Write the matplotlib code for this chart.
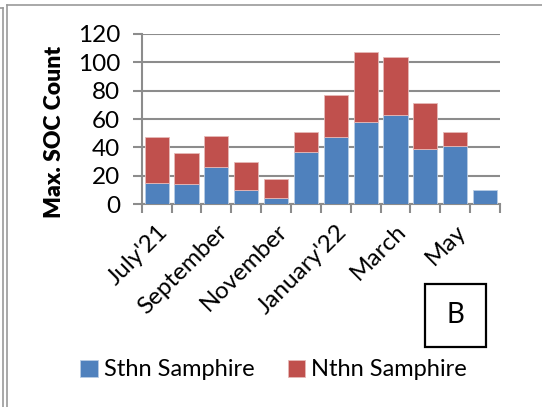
import matplotlib
matplotlib.use("Agg")
import matplotlib.pyplot as plt
from matplotlib.patches import Rectangle
from matplotlib.lines import Line2D

plt.rcParams['font.family'] = ['Lato', 'DejaVu Sans']

months = ["July'21", "August", "September", "October", "November", "December",
          "January'22", "February", "March", "April", "May", "June"]
sthn = [15, 14, 26, 10, 4, 37, 47, 58, 63, 39, 41, 10]
nthn = [32, 22, 22, 20, 14, 14, 30, 49, 41, 32, 10, 0]

blue = '#4F81BD'
red = '#C0504D'
grid_col = '#8C8C8C'

W, H = 542, 407
fig = plt.figure(figsize=(W / 100, H / 100), dpi=100)
ax = fig.add_axes([141.7 / W, 1 - 204 / H, (500 - 141.7) / W, 170 / H])

x = list(range(len(months)))
ax.bar(x, sthn, width=0.81, color=blue, edgecolor='#B9CDE5', linewidth=0.6,
       label='Sthn Samphire', zorder=3)
ax.bar(x, nthn, width=0.81, bottom=sthn, color=red, edgecolor='#E6B9B8',
       linewidth=[0.6 if v else 0 for v in nthn], label='Nthn Samphire', zorder=3)

ax.set_xlim(-0.5, len(months) - 0.5)
ax.set_ylim(0, 120)
ax.set_yticks(range(0, 121, 20))
ax.yaxis.grid(True, color=grid_col, linewidth=1.5, zorder=0)
ax.set_axisbelow(True)

for s in ['top', 'right']:
    ax.spines[s].set_visible(False)
for s in ['left', 'bottom']:
    ax.spines[s].set_color(grid_col)
    ax.spines[s].set_linewidth(1.5)

ax.tick_params(axis='y', length=6.5, width=1.5, color=grid_col, pad=9,
               labelsize=17.5, labelcolor='#000000')
# category boundaries carry the tick marks, labels sit on every other bar
ax.set_xticks([i - 0.5 for i in range(len(months) + 1)], minor=True)
ax.tick_params(axis='x', which='minor', length=6.5, width=1.5, color=grid_col)
ax.set_xticks(x[::2])
ax.set_xticklabels(months[::2], rotation=45, ha='right', va='top',
                   rotation_mode='anchor', fontsize=17.5)
ax.tick_params(axis='x', which='major', length=0, pad=12)

fig.text(55 / W, 1 - 131.7 / H, 'Max. SOC Count', rotation=90, fontsize=16.5,
         fontweight='heavy', ha='center', va='center')

# panel letter box
fig.patches.append(Rectangle((425 / W, 1 - 347 / H), 61 / W, 63 / H,
                             transform=fig.transFigure, fill=False,
                             edgecolor='black', linewidth=1.6))
fig.text(455.5 / W, 1 - 315 / H, 'B', fontsize=20, ha='center', va='center')

# frame lines at the page edge
for xl in (2.5, 6.5):
    fig.add_artist(Line2D([xl / W, xl / W], [0, 1 - 8 / H if xl < 5 else 1 - 4.5 / H],
                          transform=fig.transFigure, color='#9A9A9A', linewidth=1.2))
fig.add_artist(Line2D([6.5 / W, 1], [1 - 4.5 / H, 1 - 4.5 / H],
                      transform=fig.transFigure, color='#9A9A9A', linewidth=1.2))
fig.add_artist(Line2D([0, 2.5 / W], [1 - 8 / H, 1 - 8 / H],
                      transform=fig.transFigure, color='#9A9A9A', linewidth=1.2))

handles, labels = ax.get_legend_handles_labels()
fig.legend(handles, labels, loc='center', bbox_to_anchor=(0.505, 1 - 370 / H),
           ncol=2, frameon=False, fontsize=17, handlelength=0.75,
           handleheight=0.75, handletextpad=0.25, columnspacing=1.4)

fig.savefig('out.png', dpi=100)
